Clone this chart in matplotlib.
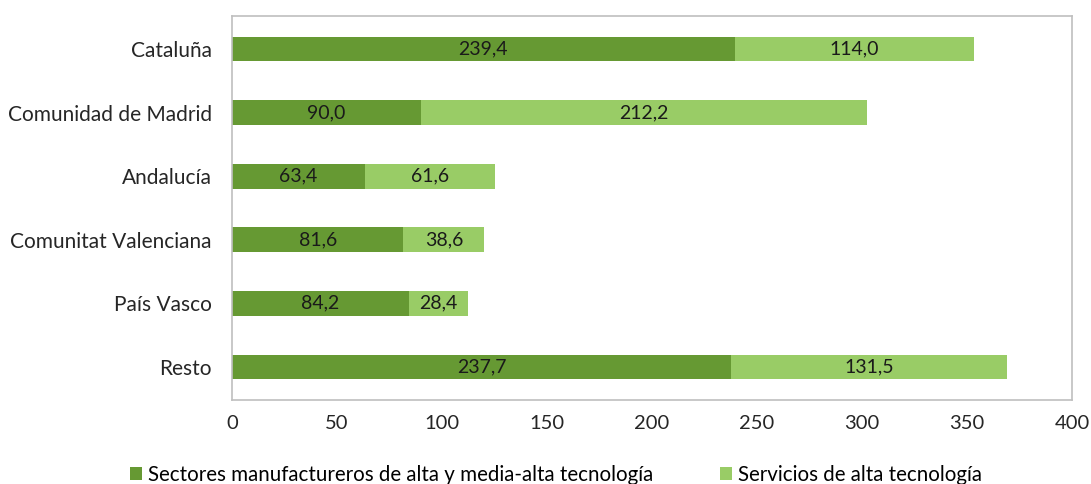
import numpy as np
import matplotlib
matplotlib.use("Agg")
import matplotlib.pyplot as plt

plt.rcParams['font.family'] = ['Lato', 'DejaVu Sans']

regiones = ["Cataluña", "Comunidad de Madrid", "Andalucía",
            "Comunitat Valenciana", "País Vasco", "Resto"]
manufactura = [239.4, 90.0, 63.4, 81.6, 84.2, 237.7]
servicios = [114.0, 212.2, 61.6, 38.6, 28.4, 131.5]

oscuro = "#669933"
claro = "#99CC66"

fig = plt.figure(figsize=(10.91, 4.84), dpi=100)
ax = fig.add_axes([232/1091, 84/484, 840/1091, 384/484])

y = np.arange(len(regiones))
b1 = ax.barh(y, manufactura, height=0.39, color=oscuro,
             label="Sectores manufactureros de alta y media-alta tecnología")
b2 = ax.barh(y, servicios, height=0.39, left=manufactura, color=claro,
             label="Servicios de alta tecnología")

for bars in (b1, b2):
    for r in bars:
        v = r.get_width()
        ax.text(r.get_x() + v / 2, r.get_y() + r.get_height() / 2,
                f"{v:.1f}".replace(".", ","), ha="center", va="center",
                fontsize=14, color="#1a1a1a")

ax.set_xlim(0, 400)
ax.set_ylim(len(regiones) - 0.48, -0.52)
ax.set_xticks(range(0, 401, 50))
ax.set_yticks(y)
ax.set_yticklabels(regiones)
ax.tick_params(axis="both", length=0, labelsize=14.5, colors="#262626")
ax.tick_params(axis="y", labelsize=15)
ax.tick_params(axis="x", pad=11)
ax.tick_params(axis="y", pad=14.5)
for s in ax.spines.values():
    s.set_color("#BFBFBF")
    s.set_linewidth(1.2)

fig.legend(handles=[b1, b2], loc="upper left", bbox_to_anchor=(130/1091, 1 - 465/484),
           ncol=2, frameon=False, fontsize=14.8, handlelength=0.6, handleheight=0.6,
           handletextpad=0.3, columnspacing=3.2, borderaxespad=0, borderpad=0)

fig.savefig("out.png", dpi=100)
